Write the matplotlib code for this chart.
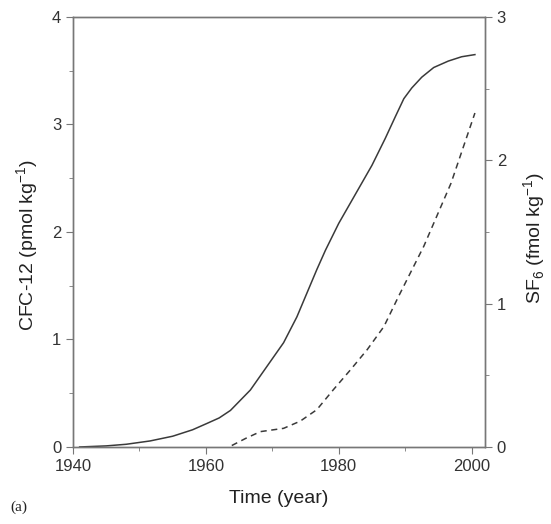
import matplotlib
matplotlib.use("Agg")
import matplotlib.pyplot as plt
from matplotlib.ticker import MultipleLocator

plt.rcParams['font.family'] = ['Liberation Sans', 'DejaVu Sans']
plt.rcParams['mathtext.fontset'] = 'custom'
plt.rcParams['mathtext.rm'] = 'Liberation Sans'

# CFC-12 (pmol/kg), left axis
cfc_year = [1941, 1943, 1945, 1948, 1951.6, 1955, 1958, 1960.2, 1962, 1963.7, 1966.7,
            1969.2, 1971.7, 1973.7, 1975.2, 1976.7, 1978, 1980, 1982.5, 1985,
            1987, 1988.5, 1989.8, 1991, 1992.5, 1994.3, 1996.5, 1998.5, 2000.5]
cfc_val = [0.0, 0.005, 0.01, 0.025, 0.056, 0.1, 0.16, 0.22, 0.27, 0.34, 0.53,
           0.75, 0.97, 1.21, 1.43, 1.65, 1.83, 2.08, 2.35, 2.62,
           2.87, 3.07, 3.24, 3.34, 3.44, 3.53, 3.59, 3.63, 3.65]

# SF6 (fmol/kg), right axis
sf6_year = [1963.9, 1966, 1968.2, 1971.7, 1974.2, 1976.7, 1979.2, 1981.8,
            1984.3, 1986.8, 1989, 1992.8, 1996.9, 2000.5]
sf6_val = [0.01, 0.06, 0.107, 0.13, 0.18, 0.26, 0.40, 0.54,
           0.68, 0.84, 1.05, 1.40, 1.84, 2.33]

line_col = '#3a3a3a'
spine_col = '#777777'

fig = plt.figure(figsize=(5.51, 5.24), dpi=100)
ax = fig.add_axes([0.1325, 0.147, 0.7475, 0.8206])
ax2 = ax.twinx()

ax.plot(cfc_year, cfc_val, color=line_col, lw=1.1)
ax2.plot(sf6_year, sf6_val, color=line_col, lw=1.1, ls=(0, (4, 3)))

ax.set_xlim(1940, 2002)
ax.set_ylim(0, 4)
ax2.set_ylim(0, 3)

ax.xaxis.set_major_locator(MultipleLocator(20))
ax.xaxis.set_minor_locator(MultipleLocator(10))
ax.yaxis.set_major_locator(MultipleLocator(1))
ax.yaxis.set_minor_locator(MultipleLocator(0.5))
ax2.yaxis.set_major_locator(MultipleLocator(1))
ax2.yaxis.set_minor_locator(MultipleLocator(0.5))

for a in (ax, ax2):
    for s in a.spines.values():
        s.set_color(spine_col)
        s.set_linewidth(1.0)
    a.tick_params(which='both', direction='out', color=spine_col, labelsize=12,
                  labelcolor='#333333')
    a.tick_params(which='major', length=5)
    a.tick_params(which='minor', length=3)

ax.set_xlabel('Time (year)', fontsize=14, color='#222222', labelpad=12)
ax.set_ylabel('CFC-12 (pmol kg$^{-1}$)', fontsize=14, color='#222222', labelpad=8)
ax2.set_ylabel('SF$_6$ (fmol kg$^{-1}$)', fontsize=14, color='#222222', labelpad=11)
# labels sit a bit below the axis middle in the original
ax.yaxis.label.set_y(0.47)
ax2.yaxis.label.set_y(0.486)

fig.text(0.018, 0.025, '(a)', fontsize=11, family='Liberation Serif', color='#222222')

fig.savefig('out.png', dpi=100)
